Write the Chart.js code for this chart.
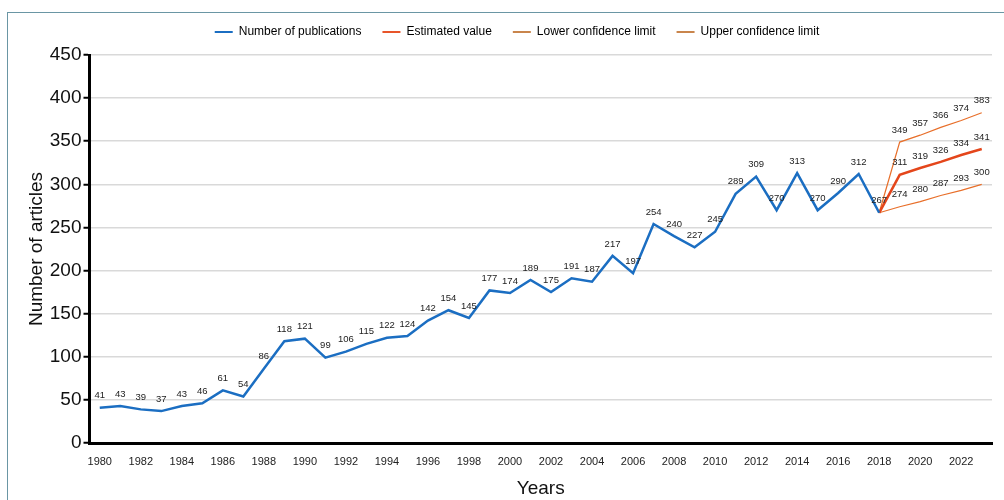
<!DOCTYPE html>
<html>
<head>
<meta charset="utf-8">
<script src="https://cdn.jsdelivr.net/npm/chart.js@4.4.0/dist/chart.umd.min.js"></script>
<style>
  html, body { margin: 0; padding: 0; background: #fff; overflow: hidden; }
  #frame {
    position: absolute; left: 7px; top: 12px; width: 1020px; height: 520px;
    border-left: 1.5px solid #6a96a4; border-top: 1.5px solid #6a96a4;
  }
  #wrap { position: absolute; left: 0; top: 0; width: 1004px; height: 500px; }
</style>
</head>
<body>
<div id="frame"></div>
<div id="wrap"><canvas id="chart" width="1004" height="500"></canvas></div>
<script>
const years = ["1980", "1981", "1982", "1983", "1984", "1985", "1986", "1987", "1988", "1989",
  "1990", "1991", "1992", "1993", "1994", "1995", "1996", "1997", "1998", "1999",
  "2000", "2001", "2002", "2003", "2004", "2005", "2006", "2007", "2008", "2009",
  "2010", "2011", "2012", "2013", "2014", "2015", "2016", "2017", "2018", "2019",
  "2020", "2021", "2022", "2023"];

// 1980-2018
const publications = [41, 43, 39, 37, 43, 46, 61, 54, 86, 118,
  121, 99, 106, 115, 122, 124, 142, 154, 145, 177,
  174, 189, 175, 191, 187, 217, 197, 254, 240, 227,
  245, 289, 309, 270, 313, 270, 290, 312, 267];

// 2018-2023
const estimated = [267, 311, 319, 326, 334, 341];
const lowerLimit = [267, 274, 280, 287, 293, 300];
const upperLimit = [267, 349, 357, 366, 374, 383];

const yTicks = [0, 50, 100, 150, 200, 250, 300, 350, 400, 450];

const forecastStart = years.indexOf("2018");
const padForecast = arr => Array(forecastStart).fill(null).concat(arr);

const FONT = "Arial, 'Liberation Sans', sans-serif";

// value labels above each point (skip the shared 2018 point on forecast lines)
const valueLabels = {
  id: "valueLabels",
  afterDatasetsDraw(chart) {
    const ctx = chart.ctx;
    ctx.save();
    ctx.font = "9.5px " + FONT;
    ctx.fillStyle = "#222";
    ctx.textAlign = "center";
    ctx.textBaseline = "middle";
    chart.data.datasets.forEach((ds, i) => {
      const meta = chart.getDatasetMeta(i);
      meta.data.forEach((pt, j) => {
        const v = ds.data[j];
        if (v == null) return;
        if (i > 0 && j === forecastStart) return;
        ctx.fillText(v, pt.x, pt.y - 12);
      });
    });
    ctx.restore();
  }
};

// legend box: taller gap under it, nudged right
const legendFit = {
  id: "legendFit",
  beforeLayout(chart) {
    const legend = chart.legend;
    if (!legend || legend._fitPatched) return;
    const fit = legend.fit;
    legend.fit = function () {
      fit.call(this);
      this.height += 7;
    };
    legend._fitPatched = true;
  },
  afterLayout(chart) {
    if (chart.legend) chart.legend.left += 25;
  }
};

const legendColors = ["#1b6ec2", "#e8552a", "#c9854c", "#c9854c"];

new Chart(document.getElementById("chart"), {
  type: "line",
  data: {
    labels: years,
    datasets: [
      {
        label: "Number of publications",
        data: publications,
        borderColor: "#1b6ec2",
        borderWidth: 2.5
      },
      {
        label: "Estimated value",
        data: padForecast(estimated),
        borderColor: "#e4461b",
        borderWidth: 2.5
      },
      {
        label: "Lower confidence limit",
        data: padForecast(lowerLimit),
        borderColor: "#e86f2a",
        borderWidth: 1.2
      },
      {
        label: "Upper confidence limit",
        data: padForecast(upperLimit),
        borderColor: "#e86f2a",
        borderWidth: 1.2
      }
    ]
  },
  options: {
    responsive: false,
    animation: false,
    elements: {
      point: { radius: 0 },
      line: { tension: 0 }
    },
    layout: { padding: { left: 17, right: 12, top: 5, bottom: 0 } },
    plugins: {
      tooltip: { enabled: false },
      legend: {
        position: "top",
        labels: {
          font: { family: FONT, size: 12 },
          color: "#222",
          usePointStyle: true,
          pointStyle: "line",
          pointStyleWidth: 18,
          padding: 21,
          generateLabels(chart) {
            return chart.data.datasets.map((ds, i) => ({
              text: ds.label,
              strokeStyle: legendColors[i],
              fillStyle: legendColors[i],
              lineWidth: 2,
              pointStyle: "line",
              hidden: false,
              datasetIndex: i
            }));
          }
        }
      }
    },
    scales: {
      x: {
        offset: true,
        grid: { display: false, drawTicks: false },
        border: { color: "#000", width: 3 },
        ticks: {
          autoSkip: false,
          maxRotation: 0,
          padding: 12,
          color: "#222",
          font: { family: FONT, size: 11 },
          callback(value, index) {
            return index % 2 === 0 ? years[index] : "";
          }
        },
        title: {
          display: true,
          text: "Years",
          color: "#111",
          font: { family: FONT, size: 19 },
          padding: { top: -3, bottom: 0 }
        }
      },
      y: {
        min: 0,
        max: 450,
        afterBuildTicks(axis) {
          axis.ticks = yTicks.map(v => ({ value: v }));
        },
        grid: { color: "#d9d9d9", lineWidth: 1.5, tickColor: "#000", tickLength: 6, tickWidth: 2 },
        border: { color: "#000", width: 3 },
        ticks: {
          padding: 2,
          color: "#111",
          font: { family: FONT, size: 19 }
        },
        title: {
          display: true,
          text: "Number of articles",
          color: "#111",
          font: { family: FONT, size: 19 },
          padding: { top: 8, bottom: 0 }
        }
      }
    }
  },
  plugins: [valueLabels, legendFit]
});
</script>
</body>
</html>
